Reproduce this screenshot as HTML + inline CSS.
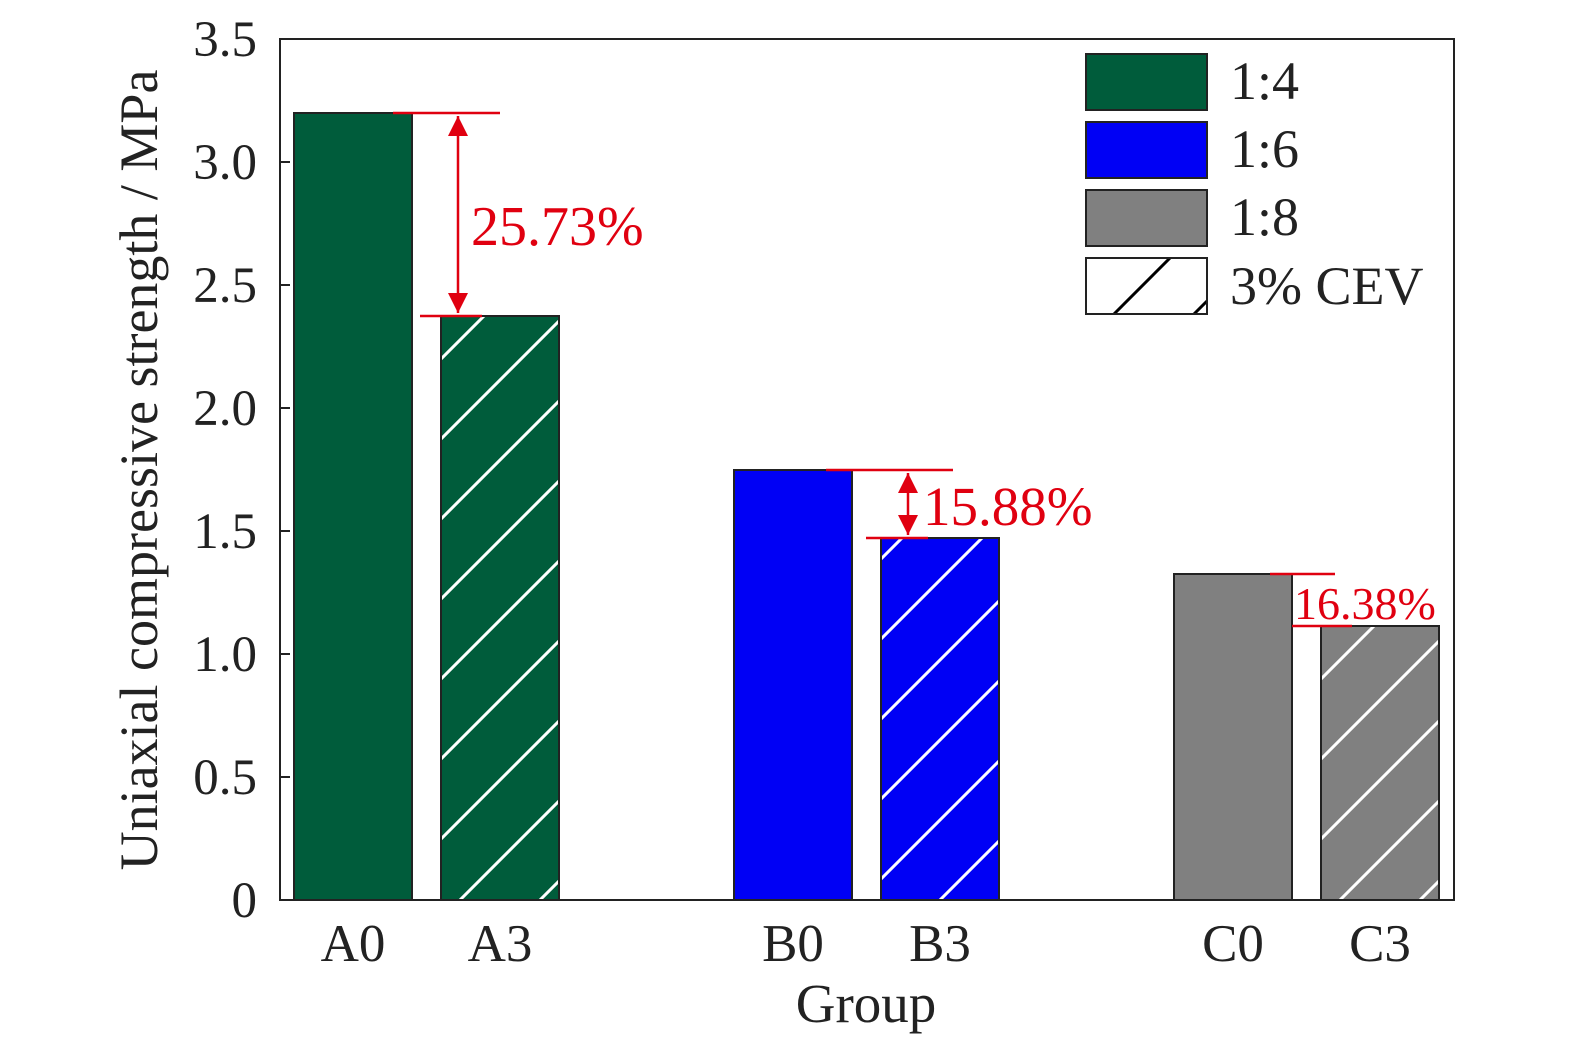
<!DOCTYPE html>
<html><head><meta charset="utf-8"><style>html,body{margin:0;padding:0;background:#fff;overflow:hidden}svg{display:block}</style></head><body>
<svg width="1575" height="1053" viewBox="0 0 1575 1053" xmlns="http://www.w3.org/2000/svg" font-family="Liberation Serif, serif">
<defs>
<pattern id="h" patternUnits="userSpaceOnUse" width="80" height="80">
<line x1="0" y1="80" x2="80" y2="0" stroke="#fff" stroke-width="3"/>
<line x1="-10" y1="10" x2="10" y2="-10" stroke="#fff" stroke-width="3"/>
<line x1="70" y1="90" x2="90" y2="70" stroke="#fff" stroke-width="3"/>
</pattern>
<pattern id="hl" patternUnits="userSpaceOnUse" x="1086" y="258" width="121" height="56">
<line x1="28" y1="56" x2="84" y2="0" stroke="#000" stroke-width="3"/>
<line x1="108" y1="56" x2="121" y2="43" stroke="#000" stroke-width="3"/>
</pattern>
<marker id="ar" viewBox="0 0 10 10" refX="10" refY="5" markerWidth="8" markerHeight="10" orient="auto-start-reverse"><path d="M0,0 L10,5 L0,10 z" fill="#e00010"/></marker>
</defs>
<g stroke="#222" stroke-width="2">
<rect x="294" y="113" width="118" height="787" fill="#005c3b"/>
<rect x="441" y="316" width="118" height="584" fill="#005c3b"/>
<rect x="441" y="316" width="118" height="584" fill="url(#h)"/>
<rect x="734" y="470" width="118" height="430" fill="#0000f5"/>
<rect x="881" y="538" width="118" height="362" fill="#0000f5"/>
<rect x="881" y="538" width="118" height="362" fill="url(#h)"/>
<rect x="1174" y="574" width="118" height="326" fill="#808080"/>
<rect x="1321" y="626" width="118" height="274" fill="#808080"/>
<rect x="1321" y="626" width="118" height="274" fill="url(#h)"/>
</g>
<rect x="280" y="39" width="1174" height="861" fill="none" stroke="#222" stroke-width="2"/>
<g stroke="#222" stroke-width="2">
<line x1="280" y1="162" x2="290" y2="162"/><line x1="280" y1="285" x2="290" y2="285"/><line x1="280" y1="408" x2="290" y2="408"/><line x1="280" y1="531" x2="290" y2="531"/><line x1="280" y1="654" x2="290" y2="654"/><line x1="280" y1="777" x2="290" y2="777"/>
</g>
<g font-size="51" text-anchor="end" fill="#222">
<text x="257" y="917">0</text><text x="257" y="794">0.5</text><text x="257" y="671">1.0</text><text x="257" y="548">1.5</text><text x="257" y="425">2.0</text><text x="257" y="302">2.5</text><text x="257" y="179">3.0</text><text x="257" y="56">3.5</text>
</g>
<g font-size="53" text-anchor="middle" fill="#222">
<text x="353" y="961">A0</text><text x="500" y="961">A3</text><text x="793" y="961">B0</text><text x="940" y="961">B3</text><text x="1233" y="961">C0</text><text x="1380" y="961">C3</text>
<text x="866" y="1022" font-size="55">Group</text>
<text transform="translate(157,470) rotate(-90)" font-size="54">Uniaxial compressive strength / MPa</text>
</g>
<g stroke="#222" stroke-width="2">
<rect x="1086" y="54" width="121" height="56" fill="#005c3b"/>
<rect x="1086" y="122" width="121" height="56" fill="#0000f5"/>
<rect x="1086" y="190" width="121" height="56" fill="#808080"/>
<rect x="1086" y="258" width="121" height="56" fill="#fff"/>
<rect x="1086" y="258" width="121" height="56" fill="url(#hl)"/>
</g>
<g font-size="54" fill="#222">
<text x="1230" y="99">1:4</text><text x="1230" y="167">1:6</text><text x="1230" y="235">1:8</text><text x="1230" y="304">3% CEV</text>
</g>
<g stroke="#e00010" stroke-width="2.5">
<line x1="393" y1="113" x2="500" y2="113"/><line x1="420" y1="316" x2="482" y2="316"/>
<line x1="458" y1="116" x2="458" y2="313" marker-start="url(#ar)" marker-end="url(#ar)"/>
<line x1="826" y1="470" x2="953" y2="470"/><line x1="866" y1="538" x2="928" y2="538"/>
<line x1="908" y1="473" x2="908" y2="535" marker-start="url(#ar)" marker-end="url(#ar)"/>
<line x1="1270" y1="574" x2="1335" y2="574"/><line x1="1292" y1="626" x2="1352" y2="626"/>
</g>
<g fill="#e00010">
<text x="471" y="245" font-size="56">25.73%</text>
<text x="923" y="525" font-size="55">15.88%</text>
<text x="1294" y="619" font-size="46">16.38%</text>
</g>
</svg>
</body></html>
